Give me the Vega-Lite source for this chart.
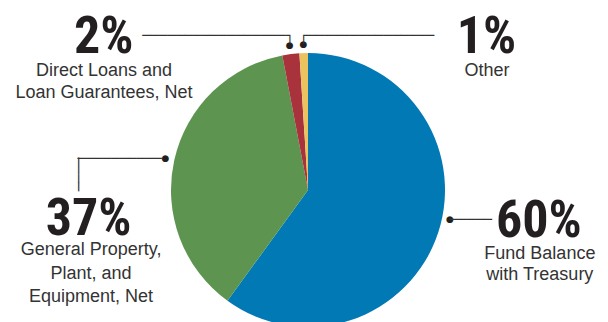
{
  "$schema": "https://vega.github.io/schema/vega-lite/v6.json",
  "width": 616,
  "height": 380,
  "padding": 0,
  "autosize": {"type": "none"},
  "background": "white",
  "view": {"stroke": null},
  "data": {
    "values": [
      {"category": "Fund Balance with Treasury", "label": "Fund Balance\nwith Treasury", "share": 0.60},
      {"category": "General Property, Plant, and Equipment, Net", "label": "General Property,\nPlant, and\nEquipment, Net", "share": 0.37},
      {"category": "Direct Loans and Loan Guarantees, Net", "label": "Direct Loans and\nLoan Guarantees, Net", "share": 0.02},
      {"category": "Other", "label": "Other", "share": 0.01}
    ]
  },
  "transform": [
    {"stack": "share", "groupby": [], "sort": [{"field": "share", "order": "descending"}], "as": ["t0", "t1"]},
    {"calculate": "(datum.t0 + datum.t1) / 2", "as": "tm"}
  ],
  "layer": [
    {
      "mark": {"type": "arc", "radius": 137},
      "encoding": {
        "theta": {"field": "t0", "type": "quantitative", "stack": null, "scale": {"domain": [0, 1]}},
        "theta2": {"field": "t1"},
        "color": {
          "field": "category", "type": "nominal", "legend": null,
          "scale": {
            "domain": ["Fund Balance with Treasury", "General Property, Plant, and Equipment, Net", "Direct Loans and Loan Guarantees, Net", "Other"],
            "range": ["#0079b5", "#5d9450", "#a9333d", "#eac35e"]
          }
        }
      }
    },
    {
      "transform": [{"filter": "datum.category !== 'Fund Balance with Treasury'"}],
      "mark": {"type": "text", "text": "●", "radius": 146, "font": "DejaVu Sans", "fontSize": 9, "color": "#231f20", "align": "center", "baseline": "middle"},
      "encoding": {"theta": {"field": "tm", "type": "quantitative", "stack": null, "scale": {"domain": [0, 1]}}}
    },
    {
      "transform": [{"filter": "datum.category === 'Fund Balance with Treasury'"}],
      "mark": {"type": "text", "text": "●", "radius": 146, "dx": 3, "dy": -16, "font": "DejaVu Sans", "fontSize": 9, "color": "#231f20", "align": "center", "baseline": "middle"},
      "encoding": {"theta": {"field": "tm", "type": "quantitative", "stack": null, "scale": {"domain": [0, 1]}}}
    },
    {
      "transform": [{"filter": "datum.category === 'Fund Balance with Treasury'"}],
      "mark": {"type": "text", "text": "─────", "radius": 146, "dx": 3, "dy": -11.2, "font": "DejaVu Sans", "fontSize": 14, "color": "#333333", "align": "left", "baseline": "alphabetic"},
      "encoding": {"theta": {"field": "tm", "type": "quantitative", "stack": null, "scale": {"domain": [0, 1]}}}
    },
    {
      "transform": [{"filter": "datum.category === 'General Property, Plant, and Equipment, Net'"}],
      "mark": {"type": "text", "text": "──────────", "radius": 146, "dx": -88, "dy": 4.8, "font": "DejaVu Sans", "fontSize": 14, "color": "#333333", "align": "left", "baseline": "alphabetic"},
      "encoding": {"theta": {"field": "tm", "type": "quantitative", "stack": null, "scale": {"domain": [0, 1]}}}
    },
    {
      "transform": [{"filter": "datum.category === 'General Property, Plant, and Equipment, Net'"}],
      "mark": {"type": "text", "text": "────", "angle": 90, "radius": 146, "dx": -0.6, "dy": 91.8, "font": "DejaVu Sans", "fontSize": 14, "color": "#333333", "align": "left", "baseline": "alphabetic"},
      "encoding": {"theta": {"field": "tm", "type": "quantitative", "stack": null, "scale": {"domain": [0, 1]}}}
    },
    {
      "transform": [{"filter": "datum.category === 'Direct Loans and Loan Guarantees, Net'"}],
      "mark": {"type": "text", "text": "─────────────────┐", "radius": 146, "dx": 4.2, "dy": -5.4, "font": "DejaVu Sans", "fontSize": 14, "color": "#333333", "align": "right", "baseline": "alphabetic"},
      "encoding": {"theta": {"field": "tm", "type": "quantitative", "stack": null, "scale": {"domain": [0, 1]}}}
    },
    {
      "transform": [{"filter": "datum.category === 'Other'"}],
      "mark": {"type": "text", "text": "┌───────────────", "radius": 146, "dx": -4.2, "dy": -4.3, "font": "DejaVu Sans", "fontSize": 14, "color": "#333333", "align": "left", "baseline": "alphabetic"},
      "encoding": {"theta": {"field": "tm", "type": "quantitative", "stack": null, "scale": {"domain": [0, 1]}}}
    },
    {
      "transform": [{"filter": "datum.category === 'Fund Balance with Treasury'"}],
      "mark": {"type": "text", "radius": 146, "dx": 92, "dy": 2, "font": "Roboto Condensed, Liberation Sans", "fontWeight": "bold", "fontSize": 52, "color": "#231f20", "align": "center", "baseline": "alphabetic"},
      "encoding": {
        "theta": {"field": "tm", "type": "quantitative", "stack": null, "scale": {"domain": [0, 1]}},
        "text": {"field": "share", "type": "quantitative", "format": ".0%"}
      }
    },
    {
      "transform": [{"filter": "datum.category === 'General Property, Plant, and Equipment, Net'"}],
      "mark": {"type": "text", "radius": 146, "dx": -77, "dy": 77, "font": "Roboto Condensed, Liberation Sans", "fontWeight": "bold", "fontSize": 52, "color": "#231f20", "align": "center", "baseline": "alphabetic"},
      "encoding": {
        "theta": {"field": "tm", "type": "quantitative", "stack": null, "scale": {"domain": [0, 1]}},
        "text": {"field": "share", "type": "quantitative", "format": ".0%"}
      }
    },
    {
      "transform": [{"filter": "datum.category === 'Direct Loans and Loan Guarantees, Net'"}],
      "mark": {"type": "text", "radius": 146, "dx": -186, "dy": 8, "font": "Roboto Condensed, Liberation Sans", "fontWeight": "bold", "fontSize": 52, "color": "#231f20", "align": "center", "baseline": "alphabetic"},
      "encoding": {
        "theta": {"field": "tm", "type": "quantitative", "stack": null, "scale": {"domain": [0, 1]}},
        "text": {"field": "share", "type": "quantitative", "format": ".0%"}
      }
    },
    {
      "transform": [{"filter": "datum.category === 'Other'"}],
      "mark": {"type": "text", "radius": 146, "dx": 183, "dy": 9, "font": "Roboto Condensed, Liberation Sans", "fontWeight": "bold", "fontSize": 52, "color": "#231f20", "align": "center", "baseline": "alphabetic"},
      "encoding": {
        "theta": {"field": "tm", "type": "quantitative", "stack": null, "scale": {"domain": [0, 1]}},
        "text": {"field": "share", "type": "quantitative", "format": ".0%"}
      }
    },
    {
      "transform": [{"filter": "datum.category === 'Fund Balance with Treasury'"}],
      "mark": {"type": "text", "radius": 146, "dx": 93, "dy": 24, "lineBreak": "\n", "lineHeight": 21, "font": "Liberation Sans", "fontSize": 18, "color": "#333333", "align": "center", "baseline": "alphabetic"},
      "encoding": {
        "theta": {"field": "tm", "type": "quantitative", "stack": null, "scale": {"domain": [0, 1]}},
        "text": {"field": "label"}
      }
    },
    {
      "transform": [{"filter": "datum.category === 'General Property, Plant, and Equipment, Net'"}],
      "mark": {"type": "text", "radius": 146, "dx": -74.5, "dy": 97, "lineBreak": "\n", "lineHeight": 23.5, "font": "Liberation Sans", "fontSize": 18, "color": "#333333", "align": "center", "baseline": "alphabetic"},
      "encoding": {
        "theta": {"field": "tm", "type": "quantitative", "stack": null, "scale": {"domain": [0, 1]}},
        "text": {"field": "label"}
      }
    },
    {
      "transform": [{"filter": "datum.category === 'Direct Loans and Loan Guarantees, Net'"}],
      "mark": {"type": "text", "radius": 146, "dx": -185.7, "dy": 31, "lineBreak": "\n", "lineHeight": 22.3, "font": "Liberation Sans", "fontSize": 18, "color": "#333333", "align": "center", "baseline": "alphabetic"},
      "encoding": {
        "theta": {"field": "tm", "type": "quantitative", "stack": null, "scale": {"domain": [0, 1]}},
        "text": {"field": "label"}
      }
    },
    {
      "transform": [{"filter": "datum.category === 'Other'"}],
      "mark": {"type": "text", "radius": 146, "dx": 183.6, "dy": 32, "lineBreak": "\n", "lineHeight": 22, "font": "Liberation Sans", "fontSize": 18, "color": "#333333", "align": "center", "baseline": "alphabetic"},
      "encoding": {
        "theta": {"field": "tm", "type": "quantitative", "stack": null, "scale": {"domain": [0, 1]}},
        "text": {"field": "label"}
      }
    }
  ]
}
